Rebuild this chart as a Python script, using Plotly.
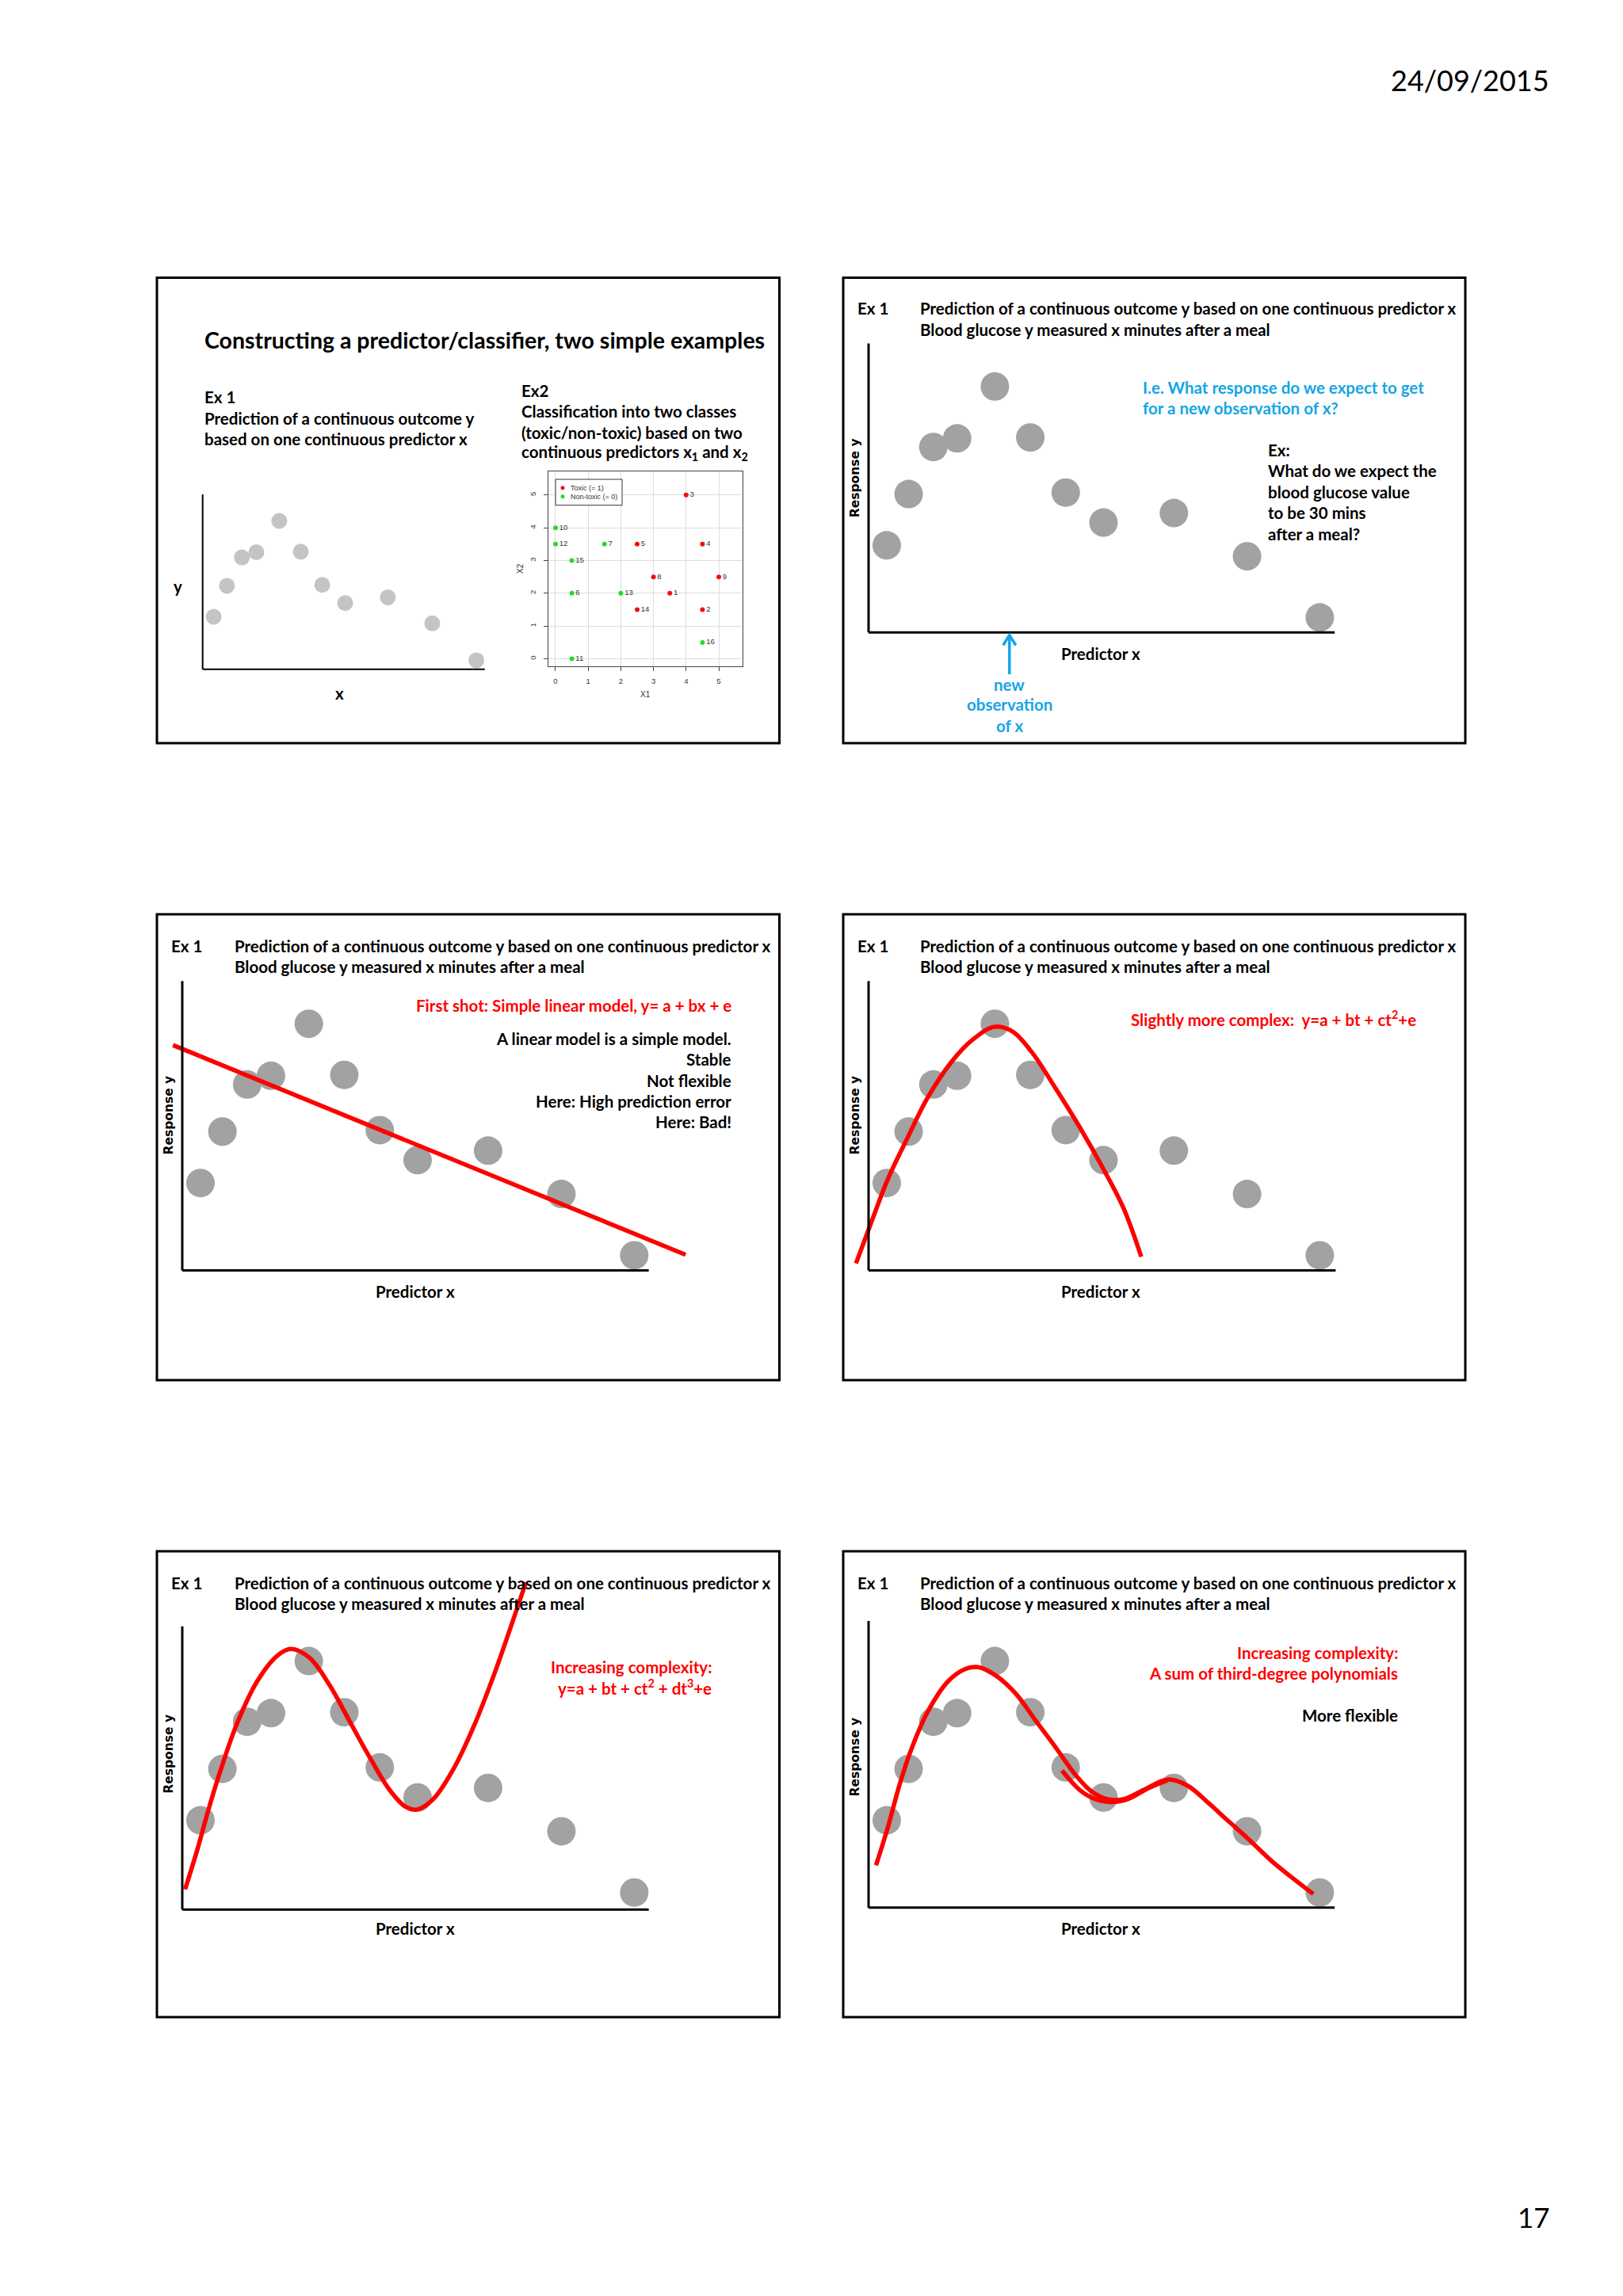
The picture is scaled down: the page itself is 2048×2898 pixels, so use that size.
import plotly.graph_objects as go

W, H = 2048, 2898
BODY = "Lato"
RESP = "DejaVu Sans"
RFONT = "Liberation Sans"
RED = "#ff0000"
BLUE = "#14a5e6"
FS = 20.5

# ---------------- data ----------------
glucose_x = [3.9, 8.6, 13.9, 19.0, 27.1, 34.7, 42.3, 50.4, 65.5, 81.2, 96.8]
glucose_y = [30.2, 48.0, 64.3, 67.3, 85.3, 67.6, 48.5, 38.1, 41.4, 26.4, 5.2]

linear_x = [-2.0, 107.8]
linear_y = [77.9, 5.4]

quad_x = [-2.7, 0.7, 4.2, 8.5, 12.7, 17.9, 22.2, 26.9, 30.8, 35.0, 40.1, 45.3, 50.4, 54.7, 58.5]
quad_y = [2.4, 17.1, 31.8, 46.3, 59.8, 72.3, 79.6, 84.2, 82.7, 75.5, 63.0, 49.5, 35.0, 21.5, 4.7]

cubic_x = [0.6, 3.2, 5.7, 8.3, 11.7, 16.0, 20.3, 23.3, 27.2, 31.5, 35.8, 40.1, 44.4, 47.8,
           50.3, 53.8, 58.1, 62.4, 66.7, 70.1, 73.6]
cubic_y = [6.3, 19.9, 34.4, 48.0, 63.6, 78.2, 87.1, 89.5, 86.5, 77.1, 64.6, 52.1, 40.7, 34.9,
           33.9, 37.6, 48.0, 62.6, 80.3, 95.9, 112.6]

spline_x = [1.6, 4.2, 6.7, 9.3, 12.7, 17.0, 20.5, 23.5, 27.3, 31.6, 35.9, 40.2, 44.4, 47.9,
            51.3, 54.7, 59.0, 64.1, 68.4, 72.7, 77.0, 81.3, 86.4, 91.6, 95.4]
spline_y = [14.6, 28.1, 42.8, 55.3, 67.8, 78.2, 82.4, 83.2, 80.3, 74.0, 64.6, 55.3, 45.9, 40.1,
            37.5, 37.5, 40.7, 44.3, 42.2, 36.5, 30.2, 24.0, 16.2, 9.4, 4.7]
spline2_x = [41.5, 45.3, 48.7, 52.2, 55.6, 59.9, 64.1]
spline2_y = [47.4, 40.7, 37.5, 36.5, 37.5, 41.2, 44.0]

ex2_id = [1, 2, 3, 4, 5, 6, 7, 8, 9, 10, 11, 12, 13, 14, 15, 16]
ex2_x1 = [3.5, 4.5, 4.0, 4.5, 2.5, 0.5, 1.5, 3.0, 5.0, 0.0, 0.5, 0.0, 2.0, 2.5, 0.5, 4.5]
ex2_x2 = [2.0, 1.5, 5.0, 3.5, 3.5, 2.0, 3.5, 2.5, 2.5, 4.0, 0.0, 3.5, 2.0, 1.5, 3.0, 0.5]
ex2_toxic = [1, 1, 1, 1, 1, 0, 0, 1, 1, 0, 0, 0, 0, 1, 0, 0]
ex2_ticks = [0, 1, 2, 3, 4, 5]
legend_labels = ["Toxic (= 1)", "Non-toxic (= 0)"]
legend_colors = ["#ee1111", "#22dd22"]

header_line1 = "Prediction of a continuous outcome y based on one continuous predictor x"
header_line2 = "Blood glucose y measured x minutes after a meal"

# ---------------- helpers ----------------
layout = dict(width=W, height=H, margin=dict(l=0, r=0, t=0, b=0),
              paper_bgcolor="white", plot_bgcolor="rgba(0,0,0,0)", showlegend=False)
shapes, anns, traces = [], [], []


def fx(p):
    return p / W


def fy(p):
    return 1 - p / H


def add_panel(n, dom, xo, xs, yb, ys):
    x0, x1, y0, y1 = dom
    s = "" if n == 1 else str(n)
    layout["xaxis" + s] = dict(domain=[fx(x0), fx(x1)], range=[(x0 - xo) / xs, (x1 - xo) / xs],
                               visible=False, anchor="y" + s, fixedrange=True)
    layout["yaxis" + s] = dict(domain=[fy(y1), fy(y0)], range=[(yb - y1) / ys, (yb - y0) / ys],
                               visible=False, anchor="x" + s, fixedrange=True)
    return "x" + s, "y" + s


def T(x, y, text, size=FS, color="black", anchor="left", bold=True, family=BODY, angle=0):
    anns.append(dict(x=fx(x), y=fy(y), xref="paper", yref="paper",
                     text=("<b>%s</b>" % text) if bold else text, showarrow=False,
                     xanchor=anchor, yanchor="middle", textangle=angle,
                     font=dict(family=family, size=size, color=color)))


def axes_lines(ax, xend, ytop, ybase=0, width=3):
    xa, ya = ax
    shapes.append(dict(type="line", xref=xa, yref=ya, x0=0, y0=ybase, x1=xend, y1=ybase,
                       line=dict(color="black", width=width)))
    shapes.append(dict(type="line", xref=xa, yref=ya, x0=0, y0=ybase, x1=0, y1=ytop,
                       line=dict(color="black", width=width)))


def dots(ax, size=36, color="#a2a2a2"):
    traces.append(go.Scatter(x=glucose_x, y=glucose_y, xaxis=ax[0], yaxis=ax[1], mode="markers",
                             marker=dict(size=size, color=color, line=dict(width=0)),
                             hoverinfo="skip"))


def curve(ax, xs, ys, shape="spline"):
    traces.append(go.Scatter(x=xs, y=ys, xaxis=ax[0], yaxis=ax[1], mode="lines",
                             line=dict(color=RED, width=5.5, shape=shape, smoothing=1.0),
                             hoverinfo="skip"))


# ---------------- slide frames ----------------
slide_rects = [(198, 350.5, 983.5, 938), (1064, 350.5, 1849, 938),
               (198, 1154, 983.5, 1742), (1064, 1154, 1849, 1742),
               (198, 1958, 983.5, 2546), (1064, 1958, 1849, 2546)]
for (x0, y0, x1, y1) in slide_rects:
    shapes.append(dict(type="rect", xref="paper", yref="paper", x0=fx(x0), y0=fy(y1),
                       x1=fx(x1), y1=fy(y0), line=dict(color="black", width=3),
                       fillcolor="rgba(0,0,0,0)"))

# ---------------- slide 1 ----------------
T(256, 428.8, "Constructing a predictor/classifier, two simple examples", size=28.5)
T(256, 501.5, "Ex 1")
T(256, 528.1, "Prediction of a continuous outcome y")
T(256, 554.4, "based on one continuous predictor x")
T(655.6, 493.1, "Ex2")
T(655.6, 519.4, "Classification into two classes")
T(655.6, 545.6, "(toxic/non-toxic) based on two")
T(655.6, 571.9, "continuous predictors x<sub>1</sub> and x<sub>2</sub>")
T(224.2, 740.1, "y", anchor="center")
T(428.5, 874.5, "x", anchor="center")

p1 = add_panel(1, (230, 640, 600, 880), 255.7, 3.568, 844.8, 2.196)
axes_lines(p1, 99.8, 100.5, width=2)
dots(p1, size=20, color="#c4c4c4")

# Ex2 scatter (R style)
axis_common = dict(showline=True, mirror=True, linecolor="#444", linewidth=1, showgrid=True,
                   gridcolor="#dcdcdc", gridwidth=1, zeroline=False, tickmode="array",
                   tickvals=ex2_ticks, ticktext=[str(t) for t in ex2_ticks], ticks="outside",
                   ticklen=5, tickcolor="#444", tickwidth=1,
                   tickfont=dict(family=RFONT, size=9.5, color="#333"), fixedrange=True)
layout["xaxis2"] = dict(domain=[fx(691.7), fx(937.3)], range=[-0.225, 5.735], anchor="y2",
                        ticklabelstandoff=5, **axis_common)
layout["yaxis2"] = dict(domain=[fy(840.7), fy(595)], range=[-0.22, 5.72], anchor="x2",
                        tickangle=-90, ticklabelstandoff=6, **axis_common)
for cls, col in [(1, legend_colors[0]), (0, legend_colors[1])]:
    idx = [i for i, c in enumerate(ex2_toxic) if c == cls]
    traces.append(go.Scatter(x=[ex2_x1[i] for i in idx], y=[ex2_x2[i] for i in idx],
                             text=[str(ex2_id[i]) for i in idx], xaxis="x2", yaxis="y2",
                             mode="markers+text", textposition="middle right",
                             textfont=dict(family=RFONT, size=9.5, color="#333"),
                             marker=dict(size=6, color=col), cliponaxis=False,
                             hoverinfo="skip"))
T(814.5, 876.7, "X1", size=10, color="#333", anchor="center", bold=False, family=RFONT)
T(657, 718, "X2", size=10, color="#333", anchor="center", bold=False, family=RFONT, angle=-90)
shapes.append(dict(type="rect", xref="paper", yref="paper", x0=fx(701), y0=fy(637.7),
                   x1=fx(785), y1=fy(605), line=dict(color="#333", width=1),
                   fillcolor="white"))
for k, (lab, col) in enumerate(zip(legend_labels, legend_colors)):
    cy = 615.7 + 11 * k
    shapes.append(dict(type="circle", xref="paper", yref="paper", x0=fx(707.5), x1=fx(712.5),
                       y0=fy(cy + 2.5), y1=fy(cy - 2.5), fillcolor=col, line=dict(width=0)))
    T(718.3, cy, lab, size=9, color="#333", bold=False, family=RFONT)


# ---------------- common header for slides 2-6 ----------------
def header(xl, xt, y1, y2):
    T(xl, y1, "Ex 1")
    T(xt, y1, header_line1)
    T(xt, y2, header_line2)


# ---------------- slide 2 ----------------
header(1080.1, 1159.3, 389.2, 415.5)
p3 = add_panel(3, (1067, 1846, 353.5, 935), 1096, 5.882, 798.2, 3.639)
axes_lines(p3, 100.0, 100.2)
dots(p3)
T(1439.8, 489.3, "I.e. What response do we expect to get", color=BLUE)
T(1439.8, 515.2, "for a new observation of x?", color=BLUE)
for yy, tx in zip([568.1, 594.0, 620.6, 647.2, 673.5],
                  ["Ex:", "What do we expect the", "blood glucose value", "to be 30 mins",
                   "after a meal?"]):
    T(1598.2, yy, tx)
T(1389.3, 825, "Predictor x", anchor="center")
T(1079.1, 603.1, "Response y", size=15.5, anchor="center", family=RESP, angle=-90)
# arrow pointing at the new observation on the x axis
ax_x, ax_tip, ax_tail = 1273.8, 801.5, 851.0
shapes.append(dict(type="line", xref="paper", yref="paper", x0=fx(ax_x), x1=fx(ax_x),
                   y0=fy(ax_tail), y1=fy(ax_tip + 2), line=dict(color=BLUE, width=3.5)))
shapes.append(dict(type="path", xref="paper", yref="paper",
                   path="M %f,%f L %f,%f L %f,%f" % (fx(ax_x - 8), fy(ax_tip + 13), fx(ax_x), fy(ax_tip),
                                                    fx(ax_x + 8), fy(ax_tip + 13)),
                   line=dict(color=BLUE, width=3.5)))
T(1273.8, 863.8, "new", color=BLUE, anchor="center")
T(1273.8, 889.3, "observation", color=BLUE, anchor="center")
T(1273.8, 915.9, "of x", color=BLUE, anchor="center")

# ---------------- slide 3 ----------------
header(214.1, 293.8, 1193.5, 1219.8)
p4 = add_panel(4, (201, 980.5, 1157, 1739), 230.0, 5.892, 1603.4, 3.649)
axes_lines(p4, 99.9, 100.1)
dots(p4)
curve(p4, linear_x, linear_y, shape="linear")
T(924.5, 1268.5, "First shot: Simple linear model, y= a + bx + e", color=RED, anchor="right")
for yy, tx in zip([1311.1, 1337.0, 1363.6, 1390.3, 1415.8],
                  ["A linear model is a simple model.", "Stable", "Not flexible",
                   "Here: High prediction error", "Here: Bad!"]):
    T(924.5, yy, tx, anchor="right")
T(524.4, 1630, "Predictor x", anchor="center")
T(213.1, 1407.4, "Response y", size=15.5, anchor="center", family=RESP, angle=-90)

# ---------------- slide 4 ----------------
header(1080.1, 1159.3, 1193.5, 1219.8)
p5 = add_panel(5, (1067, 1846, 1157, 1739), 1096, 5.882, 1603.4, 3.649)
axes_lines(p5, 100.2, 100.1)
dots(p5)
curve(p5, quad_x, quad_y)
T(1788.9, 1285.6, "Slightly more complex:&nbsp; y=a + bt + ct<sup>2</sup>+e", color=RED,
  anchor="right")
T(1389.3, 1630, "Predictor x", anchor="center")
T(1079.1, 1407.4, "Response y", size=15.5, anchor="center", family=RESP, angle=-90)

# ---------------- slide 5 ----------------
header(214.1, 293.8, 1998.5, 2024.4)
p6 = add_panel(6, (201, 980.5, 1961, 2543), 230.0, 5.892, 2407.7, 3.647)
axes_lines(p6, 99.9, 97.3, ybase=-0.7)
dots(p6)
curve(p6, cubic_x, cubic_y)
T(900.3, 2104.0, "Increasing complexity:", color=RED, anchor="right")
T(900.3, 2129.9, "y=a + bt + ct<sup>2</sup> + dt<sup>3</sup>+e", color=RED, anchor="right")
T(524.4, 2434.3, "Predictor x", anchor="center")
T(213.1, 2213.6, "Response y", size=15.5, anchor="center", family=RESP, angle=-90)

# ---------------- slide 6 ----------------
header(1080.1, 1159.3, 1998.5, 2024.4)
p7 = add_panel(7, (1067, 1846, 1961, 2543), 1096, 5.882, 2407.7, 3.647)
axes_lines(p7, 100.0, 99.2)
dots(p7)
curve(p7, spline_x, spline_y)
curve(p7, spline2_x, spline2_y)
T(1766.2, 2086.1, "Increasing complexity:", color=RED, anchor="right")
T(1766.2, 2112.0, "A sum of third-degree polynomials", color=RED, anchor="right")
T(1766.2, 2164.9, "More flexible", anchor="right")
T(1389.3, 2434.3, "Predictor x", anchor="center")
T(1079.1, 2217.4, "Response y", size=15.5, anchor="center", family=RESP, angle=-90)

# ---------------- page furniture ----------------
T(1957, 100.7, "24/09/2015", size=36, anchor="right", bold=False)
T(1958, 2798, "17", size=35, anchor="right", bold=False)

layout["shapes"] = shapes
layout["annotations"] = anns
fig = go.Figure(data=traces, layout=layout)
fig.write_html("out.html", config={"displayModeBar": False},
               post_script="document.body.style.margin='0';document.body.style.overflow='hidden';")
